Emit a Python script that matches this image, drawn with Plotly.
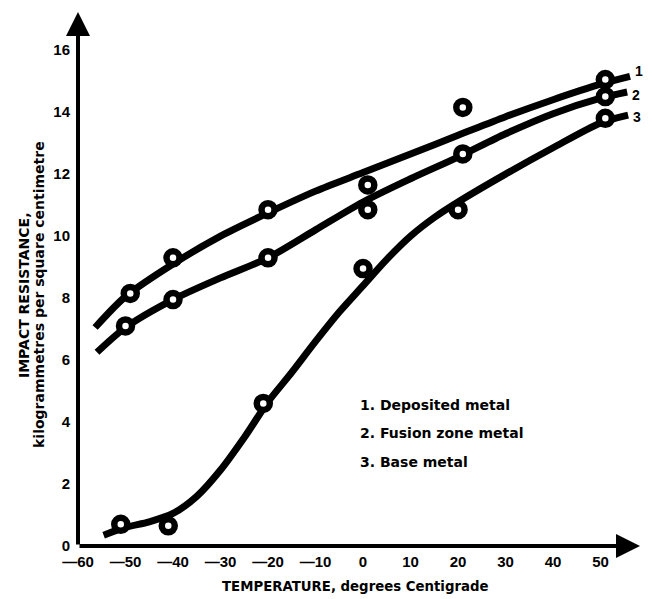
import plotly.graph_objects as go

# ---- data ----
# measured points (temperature °C, impact resistance kgm/cm²)
dep_t = [-49, -40, -20, 1, 21, 51]
dep_v = [8.15, 9.3, 10.85, 11.65, 14.15, 15.05]
fus_t = [-50, -40, -20, 1, 21, 51]
fus_v = [7.1, 7.95, 9.3, 10.85, 12.65, 14.5]
base_t = [-51, -41, -21, 0, 20, 51]
base_v = [0.7, 0.65, 4.6, 8.95, 10.85, 13.8]

# smooth fitted curves
dep_ct = [-56.4, -50, -40, -30, -20, -10, 0, 10, 20, 30, 40, 50, 56.2]
dep_cv = [7.05, 8.05, 9.1, 10.0, 10.75, 11.45, 12.05, 12.65, 13.25, 13.85, 14.4, 14.9, 15.15]
fus_ct = [-56, -50, -40, -30, -20, -10, 0, 10, 20, 30, 40, 50, 55.6]
fus_cv = [6.25, 7.05, 7.95, 8.65, 9.3, 10.2, 11.1, 11.85, 12.55, 13.3, 13.95, 14.45, 14.65]
base_ct = [-54.6, -50, -45, -40, -35, -30, -25, -20, -15, -10, -5, 0, 5, 10, 15, 20, 30, 40, 50, 55.8]
base_cv = [0.35, 0.6, 0.78, 1.05, 1.6, 2.45, 3.5, 4.65, 5.6, 6.6, 7.55, 8.4, 9.25, 10.0, 10.6, 11.1, 12.0, 12.85, 13.65, 13.9]

legend_lines = ["1. Deposited metal", "2. Fusion zone metal", "3. Base metal"]
curve_ids = ["1", "2", "3"]

x_ticks = [-60, -50, -40, -30, -20, -10, 0, 10, 20, 30, 40, 50]
x_ticktext = ["—60", "—50", "—40", "—30", "—20", "—10", "0", "10", "20", "30", "40", "50"]
y_ticks = [0, 2, 4, 6, 8, 10, 12, 14, 16]

TICKFONT = "Liberation Sans, Arial, sans-serif"
TEXTFONT = "DejaVu Sans, Liberation Sans, sans-serif"

fig = go.Figure()
for ct, cv in [(dep_ct, dep_cv), (fus_ct, fus_cv), (base_ct, base_cv)]:
    fig.add_trace(go.Scatter(x=ct, y=cv, mode="lines",
                             line=dict(color="black", width=7, shape="spline", smoothing=0.8),
                             hoverinfo="skip", showlegend=False))
for t, v in [(dep_t, dep_v), (fus_t, fus_v), (base_t, base_v)]:
    fig.add_trace(go.Scatter(x=t, y=v, mode="markers",
                             marker=dict(symbol="circle", size=13, color="white",
                                         line=dict(color="black", width=6.5)),
                             showlegend=False))

XMAX = 58.3
YMAX = 17.23

# axis lines with arrowheads
fig.add_annotation(x=-60, y=YMAX, ax=-60, ay=0, xref="x", yref="y", axref="x", ayref="y",
                   showarrow=True, arrowhead=2, arrowsize=1.2, arrowwidth=4, arrowcolor="black", text="")
fig.add_annotation(x=XMAX, y=0, ax=-60, ay=0, xref="x", yref="y", axref="x", ayref="y",
                   showarrow=True, arrowhead=2, arrowsize=1.2, arrowwidth=4, arrowcolor="black", text="")

# curve numbers at right ends
for cid, ct, cv, dy in zip(curve_ids, [dep_ct, fus_ct, base_ct], [dep_cv, fus_cv, base_cv], [5, -3, -2]):
    fig.add_annotation(x=ct[-1], y=cv[-1], text=f"<b>{cid}</b>", showarrow=False, xanchor="left",
                       xshift=3, yshift=dy, font=dict(size=14, color="black", family=TICKFONT))

# legend text (one annotation per line)
for s, py in zip(legend_lines, [0.264, 0.212, 0.158]):
    fig.add_annotation(x=0.498, y=py, xref="paper", yref="paper", xanchor="left", yanchor="middle",
                       text=f"<b>{s}</b>", showarrow=False,
                       font=dict(size=14, color="black", family=TEXTFONT))

# axis titles
fig.add_annotation(x=0.493, y=-0.075, xref="paper", yref="paper", xanchor="center", yanchor="middle",
                   text="<b>TEMPERATURE, degrees Centigrade</b>", showarrow=False,
                   font=dict(size=13.3, color="black", family=TEXTFONT))
fig.add_annotation(x=-0.096, y=0.47, xref="paper", yref="paper", xanchor="center", yanchor="middle",
                   text="<b>IMPACT RESISTANCE,</b>", textangle=-90, showarrow=False,
                   font=dict(size=14, color="black", family=TEXTFONT))
fig.add_annotation(x=-0.0694, y=0.472, xref="paper", yref="paper", xanchor="center", yanchor="middle",
                   text="<b>kilogrammetres per square centimetre</b>", textangle=-90, showarrow=False,
                   font=dict(size=14, color="black", family=TEXTFONT))

fig.update_layout(
    width=636, height=591,
    margin=dict(l=70, r=4, t=4, b=53),
    paper_bgcolor="white", plot_bgcolor="white",
    font=dict(family=TICKFONT, color="black", size=15),
    xaxis=dict(range=[-60, XMAX], tickvals=x_ticks, ticktext=[f"<b>{s}</b>" for s in x_ticktext],
               showgrid=False, zeroline=False, showline=False, ticks="", ticklabelstandoff=5,
               tickfont=dict(size=15, family=TICKFONT), automargin=False),
    yaxis=dict(range=[0, YMAX], tickvals=y_ticks, ticktext=[f"<b>{v}</b>" for v in y_ticks],
               showgrid=False, zeroline=False, showline=False, ticks="", ticklabelstandoff=7,
               tickfont=dict(size=15, family=TICKFONT), automargin=False),
)
fig.write_html("out.html")
